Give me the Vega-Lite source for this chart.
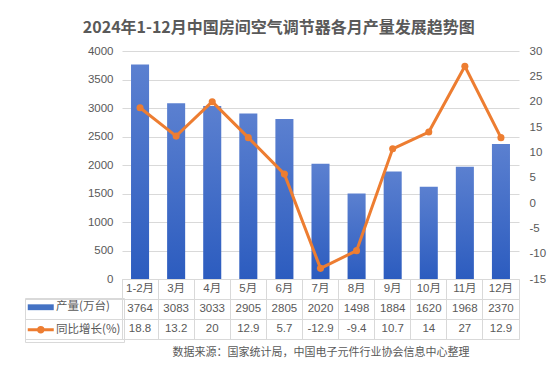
{
  "$schema": "https://vega.github.io/schema/vega-lite/v6.json",
  "padding": {"left": 24, "top": 20, "right": 5, "bottom": 8},
  "background": "white",
  "title": {
    "text": "2024年1-12月中国房间空气调节器各月产量发展趋势图",
    "fontSize": 16,
    "fontWeight": "bold",
    "color": "#595959",
    "font": "Noto Sans CJK SC",
    "anchor": "middle",
    "frame": "bounds",
    "offset": 9,
    "dx": -6
  },
  "data": {
    "values": [
      {"m": "1-2月", "p": 3764, "g": 18.8},
      {"m": "3月", "p": 3083, "g": 13.2},
      {"m": "4月", "p": 3033, "g": 20},
      {"m": "5月", "p": 2905, "g": 12.9},
      {"m": "6月", "p": 2805, "g": 5.7},
      {"m": "7月", "p": 2020, "g": -12.9},
      {"m": "8月", "p": 1498, "g": -9.4},
      {"m": "9月", "p": 1884, "g": 10.7},
      {"m": "10月", "p": 1620, "g": 14},
      {"m": "11月", "p": 1968, "g": 27},
      {"m": "12月", "p": 2370, "g": 12.9}
    ]
  },
  "spacing": 0,
  "bounds": "flush",
  "vconcat": [
    {
      "width": 397,
      "height": 228,
      "layer": [
        {
          "mark": {
            "type": "bar",
            "color": {
              "gradient": "linear",
              "x1": 0, "y1": 0, "x2": 0, "y2": 1,
              "stops": [
                {"offset": 0, "color": "#5b80d0"},
                {"offset": 1, "color": "#2c5cbf"}
              ]
            }
          },
          "encoding": {
            "x": {
              "field": "m", "type": "nominal", "sort": null,
              "scale": {"paddingInner": 0.5, "paddingOuter": 0.25},
              "axis": null
            },
            "y": {
              "field": "p", "type": "quantitative",
              "scale": {"domain": [0, 4000], "nice": false},
              "axis": {
                "values": [0, 500, 1000, 1500, 2000, 2500, 3000, 3500, 4000],
                "format": "d",
                "title": null, "domain": false, "ticks": false,
                "grid": true, "gridColor": "#d9d9d9", "gridWidth": 1,
                "labelPadding": 9
              }
            }
          }
        },
        {
          "mark": {
            "type": "line",
            "strokeWidth": 3,
            "point": {"filled": true, "size": 50}
          },
          "encoding": {
            "x": {"field": "m", "type": "nominal", "sort": null},
            "y": {
              "field": "g", "type": "quantitative",
              "scale": {"domain": [-15, 30], "nice": false},
              "axis": {
                "orient": "right",
                "values": [-15, -10, -5, 0, 5, 10, 15, 20, 25, 30],
                "labelExpr": "'' + datum.value",
                "title": null, "domain": false, "ticks": false, "grid": false,
                "labelPadding": 10, "labelAlign": "left"
              }
            },
            "color": {
              "datum": "同比增长(%)",
              "scale": {"domain": ["产量(万台)", "同比增长(%)"], "range": ["#4472c4", "#ed7d31"]},
              "legend": {
                "orient": "none", "legendX": -97, "legendY": 247,
                "title": null, "direction": "vertical",
                "symbolSize": 169, "labelOffset": 16, "padding": 3.5, "rowPadding": 7.5,
                "strokeColor": "#d9d9d9",
                "labelFontSize": 11.5, "labelColor": "#595959", "labelFont": "Noto Sans CJK SC",
                "encode": {
                  "symbols": {
                    "update": {
                      "shape": {"signal": "datum.value === '产量(万台)' ? 'M-1,-0.45H3V0.45H-1Z' : 'M-1,0H3M0.65,0A0.35,0.35,0,1,1,1.35,0A0.35,0.35,0,1,1,0.65,0Z'"},
                      "fill": {"signal": "datum.value === '产量(万台)' ? '#3f69c6' : '#ed7d31'"},
                      "stroke": {"signal": "datum.value === '产量(万台)' ? '#3f69c6' : '#ed7d31'"},
                      "strokeWidth": {"signal": "datum.value === '产量(万台)' ? 0 : 3"},
                      "opacity": {"value": 1},
                      "fillOpacity": {"value": 1},
                      "strokeOpacity": {"value": 1}
                    }
                  }
                }
              }
            }
          }
        }
      ],
      "resolve": {"scale": {"y": "independent"}}
    },
    {
      "width": 397,
      "height": 60,
      "view": {"stroke": "#d9d9d9"},
      "encoding": {
        "x": {
          "field": "m", "type": "nominal", "sort": null,
          "scale": {"type": "band", "paddingInner": 0, "paddingOuter": 0},
          "axis": {
            "orient": "bottom", "labels": false, "ticks": false, "domain": false,
            "grid": true, "gridColor": "#d9d9d9", "bandPosition": 0,
            "title": "数据来源：国家统计局，中国电子元件行业协会信息中心整理",
            "titleFont": "Noto Sans CJK SC", "titleFontSize": 11, "titleFontWeight": "normal",
            "titleColor": "#595959", "titlePadding": 7
          }
        }
      },
      "layer": [
        {
          "mark": {"type": "text", "fontSize": 11.5, "color": "#595959"},
          "encoding": {
            "y": {
              "datum": "r1", "type": "nominal",
              "scale": {"type": "band", "domain": ["r1", "r2", "r3"], "paddingInner": 0, "paddingOuter": 0},
              "axis": {
                "labels": false, "title": null, "domain": false,
                "ticks": true, "tickSize": 97, "tickColor": "#d9d9d9",
                "grid": true, "gridColor": "#d9d9d9", "bandPosition": 1
              }
            },
            "text": {"field": "m", "type": "nominal"}
          }
        },
        {
          "mark": {"type": "text", "fontSize": 11.5, "color": "#595959"},
          "encoding": {
            "y": {"datum": "r2", "type": "nominal"},
            "text": {"field": "p", "type": "nominal"}
          }
        },
        {
          "mark": {"type": "text", "fontSize": 11.5, "color": "#595959"},
          "encoding": {
            "y": {"datum": "r3", "type": "nominal"},
            "text": {"field": "g", "type": "nominal"}
          }
        }
      ]
    }
  ],
  "config": {
    "font": "Liberation Sans, Noto Sans CJK SC",
    "view": {"stroke": null},
    "axis": {"labelColor": "#595959", "labelFontSize": 11.5, "labelFont": "Liberation Sans"},
    "text": {"font": "Liberation Sans, Noto Sans CJK SC"}
  }
}
